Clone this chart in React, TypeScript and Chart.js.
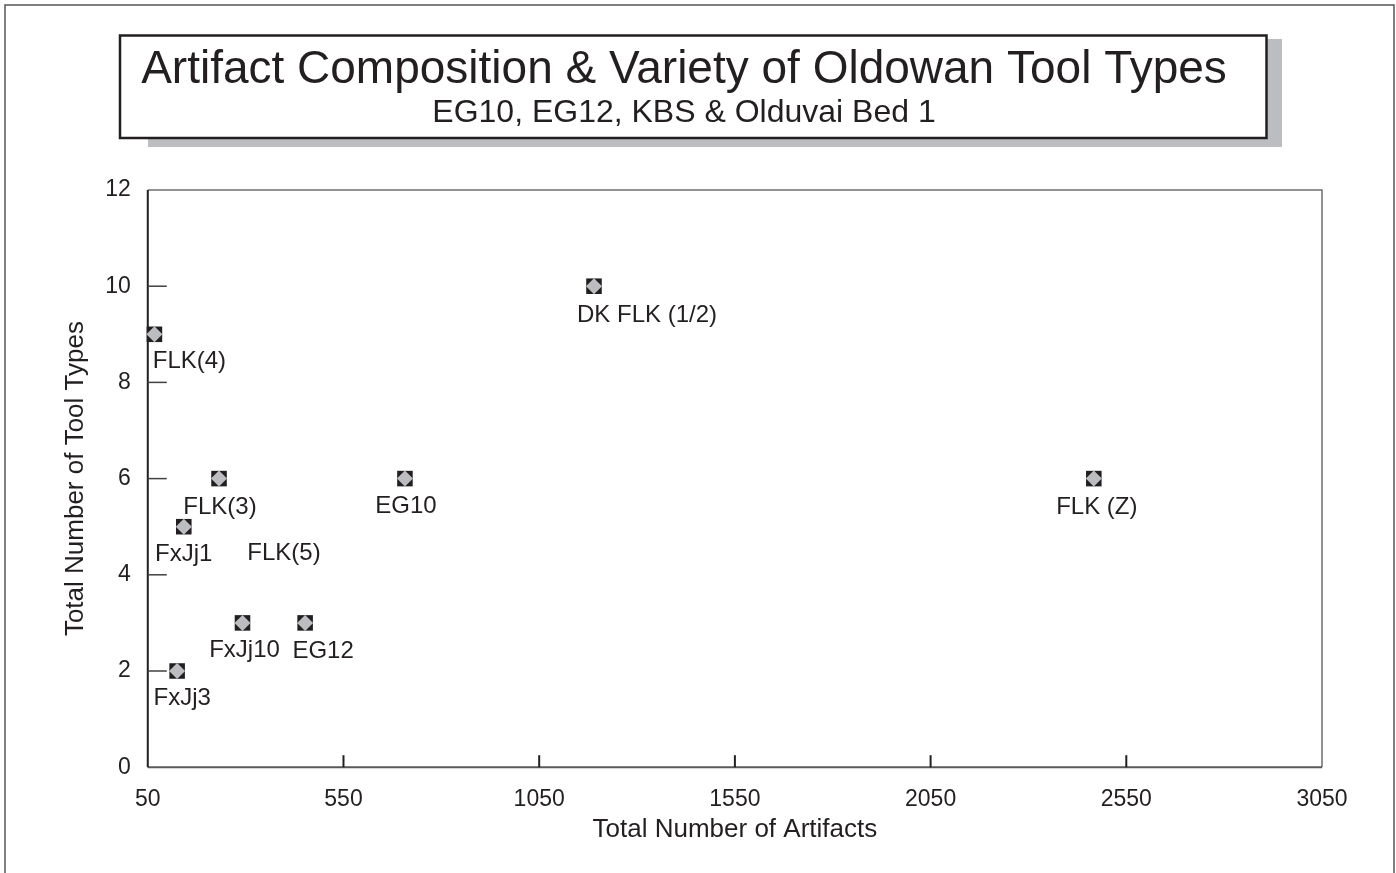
import React, { useEffect, useRef } from "react";
import { Chart, registerables } from "chart.js";

Chart.register(...registerables);

// ---------- data ----------
const siteNames = ["FLK(4)", "DK FLK (1/2)", "FLK(3)", "FxJj1", "FLK(5)", "FxJj10", "EG12", "FxJj3", "EG10", "FLK (Z)"];
const totalArtifacts = [67, 1190, 232, 142, 398, 292, 452, 125, 707, 2467];
const toolTypes = [9, 10, 6, 5, 5, 3, 3, 2, 6, 6];
const markerShown = [true, true, true, true, false, true, true, true, true, true];
const xTickValues = [50, 550, 1050, 1550, 2050, 2550, 3050];
const yTickValues = [0, 2, 4, 6, 8, 10, 12];
const titleText = "Artifact Composition & Variety of Oldowan Tool Types";
const subtitleText = "EG10, EG12, KBS & Olduvai Bed 1";
const xAxisTitle = "Total Number of Artifacts";
const yAxisTitle = "Total Number of Tool Types";

// ---------- layout / style ----------
const FONT = "'Liberation Sans', Arial, Helvetica, sans-serif";
const LABEL_OFFSETS: number[][] = [
  [35, 27], [53, 29], [1, 29], [0, 28], [0, 27], [2, 27], [18, 28], [5, 27], [1, 28], [3, 29],
];

const decorPlugin = {
  id: "decor",
  beforeDraw(chart: any) {
    const ctx = chart.ctx;
    ctx.save();
    ctx.fillStyle = "#ffffff";
    ctx.fillRect(0, 0, chart.width, chart.height);
    // outer frame
    ctx.strokeStyle = "#555555";
    ctx.lineWidth = 1.5;
    ctx.beginPath();
    ctx.moveTo(5, chart.height + 2);
    ctx.lineTo(5, 5);
    ctx.lineTo(1394, 5);
    ctx.lineTo(1394, chart.height + 2);
    ctx.stroke();
    // title shadow
    ctx.fillStyle = "#bcbdc0";
    ctx.fillRect(148, 39, 1134, 108);
    // title box
    ctx.fillStyle = "#ffffff";
    ctx.fillRect(120, 35.5, 1146.5, 102.5);
    ctx.strokeStyle = "#231f20";
    ctx.lineWidth = 2.5;
    ctx.strokeRect(120, 35.5, 1146.5, 102.5);
    // title text
    ctx.fillStyle = "#231f20";
    ctx.textAlign = "center";
    ctx.textBaseline = "alphabetic";
    ctx.font = `46px ${FONT}`;
    ctx.fillText(titleText, 684, 83);
    ctx.font = `32px ${FONT}`;
    ctx.fillText(subtitleText, 684, 122);
    ctx.restore();
  },
  beforeDatasetsDraw(chart: any) {
    const ctx = chart.ctx;
    const { left, right, top, bottom } = chart.chartArea;
    const xs = chart.scales.x;
    const ys = chart.scales.y;
    ctx.save();
    // top & right frame
    ctx.strokeStyle = "#6d6e71";
    ctx.lineWidth = 1.5;
    ctx.beginPath();
    ctx.moveTo(left, top);
    ctx.lineTo(right, top);
    ctx.lineTo(right, bottom);
    ctx.stroke();
    // bottom axis
    ctx.strokeStyle = "#58595b";
    ctx.lineWidth = 2;
    ctx.beginPath();
    ctx.moveTo(left, bottom);
    ctx.lineTo(right, bottom);
    ctx.stroke();
    // left axis
    ctx.strokeStyle = "#231f20";
    ctx.lineWidth = 2;
    ctx.beginPath();
    ctx.moveTo(left, top);
    ctx.lineTo(left, bottom);
    ctx.stroke();
    // y ticks (inside)
    ctx.strokeStyle = "#414042";
    ctx.lineWidth = 1.5;
    yTickValues.forEach((v) => {
      const py = ys.getPixelForValue(v);
      if (Math.abs(py - top) < 2 || Math.abs(py - bottom) < 2) return;
      ctx.beginPath();
      ctx.moveTo(left, py);
      ctx.lineTo(left + 19, py);
      ctx.stroke();
    });
    // x ticks (inside)
    ctx.strokeStyle = "#231f20";
    ctx.lineWidth = 2;
    xTickValues.forEach((v) => {
      const px = xs.getPixelForValue(v);
      if (Math.abs(px - left) < 2 || Math.abs(px - right) < 2) return;
      ctx.beginPath();
      ctx.moveTo(px, bottom);
      ctx.lineTo(px, bottom - 12);
      ctx.stroke();
    });
    ctx.restore();
  },
  afterDatasetsDraw(chart: any) {
    const ctx = chart.ctx;
    const xs = chart.scales.x;
    const ys = chart.scales.y;
    ctx.save();
    ctx.fillStyle = "#231f20";
    ctx.font = `24px ${FONT}`;
    ctx.textAlign = "center";
    ctx.textBaseline = "middle";
    siteNames.forEach((name, i) => {
      const px = xs.getPixelForValue(totalArtifacts[i]);
      const py = ys.getPixelForValue(toolTypes[i]);
      const [dx, dy] = LABEL_OFFSETS[i];
      ctx.fillText(name, px + dx, py + dy);
    });
    ctx.restore();
  },
};

export default function App() {
  const canvasRef = useRef<HTMLCanvasElement | null>(null);

  useEffect(() => {
    if (!canvasRef.current) return;
    const points = totalArtifacts.map((x, i) => ({ x, y: toolTypes[i] }));
    const chart = new Chart(canvasRef.current, {
      type: "scatter",
      data: {
        datasets: [
          {
            // grey diamond (drawn on top: dataset 0 is drawn last)
            data: points,
            pointStyle: "rectRot",
            pointRadius: (c: any) => (markerShown[c.dataIndex] ? 8 : 0),
            pointBackgroundColor: "#bcbdc0",
            pointBorderWidth: 0,
            borderWidth: 0,
            clip: false,
          } as any,
          {
            // black square
            data: points,
            pointStyle: "rect",
            pointRadius: (c: any) => (markerShown[c.dataIndex] ? 11 : 0),
            pointBackgroundColor: "#231f20",
            pointBorderWidth: 0,
            borderWidth: 0,
            clip: false,
          } as any,
        ],
      },
      options: {
        animation: false,
        responsive: false,
        events: [],
        layout: { padding: { left: 50, right: 74, top: 190, bottom: 28 } },
        plugins: {
          legend: { display: false },
          tooltip: { enabled: false },
          title: { display: false },
        },
        scales: {
          x: {
            type: "linear",
            min: 50,
            max: 3050,
            afterBuildTicks: (s: any) => {
              s.ticks = xTickValues.map((v) => ({ value: v }));
            },
            grid: { display: false, drawTicks: false },
            border: { display: false },
            ticks: {
              padding: 19,
              color: "#231f20",
              font: { family: FONT, size: 23 },
              maxRotation: 0,
              autoSkip: false,
              callback: (v: any) => String(v),
            },
            title: {
              display: true,
              text: xAxisTitle,
              color: "#231f20",
              font: { family: FONT, size: 26 },
              padding: { top: -19, bottom: 0 },
            },
          },
          y: {
            type: "linear",
            min: 0,
            max: 12,
            afterBuildTicks: (s: any) => {
              s.ticks = yTickValues.map((v) => ({ value: v }));
            },
            grid: { display: false, drawTicks: false },
            border: { display: false },
            ticks: {
              padding: 17,
              color: "#231f20",
              font: { family: FONT, size: 23 },
              autoSkip: false,
              callback: (v: any) => String(v),
            },
            title: {
              display: true,
              text: yAxisTitle,
              color: "#231f20",
              font: { family: FONT, size: 26 },
              padding: { top: 10, bottom: -3 },
            },
          },
        },
      },
      plugins: [decorPlugin],
    } as any);
    return () => chart.destroy();
  }, []);

  return (
    <div style={{ position: "fixed", left: 0, top: 0, width: 1396, height: 873, background: "#fff" }}>
      <canvas ref={canvasRef} width={1396} height={873} style={{ display: "block" }} />
    </div>
  );
}
